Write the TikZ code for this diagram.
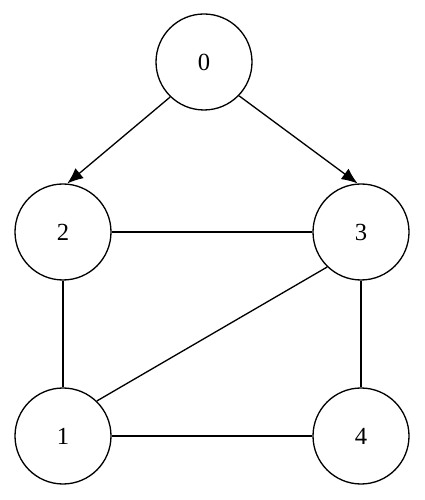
\documentclass[tikz,border=0pt]{standalone}
\usepackage{fontspec}
\setmainfont{Liberation Serif}
\usepackage{tikz}
\usetikzlibrary{arrows.meta,positioning}

\begin{document}
\begin{tikzpicture}

%BACKGROUND
\useasboundingbox (0,0) rectangle (8.5,10);

%%%%%%%%%%%%%%%%%%%%%%%%%%%%%%%%%%%%%%%%%%%%%%%%%%%%%%%%%%%%%%
%vertex
\tikzstyle{vertex}=[circle,draw,line width=0.75pt,minimum size=1.92cm,inner sep=0pt,font=\fontsize{14}{16}\selectfont]
%edges
\tikzstyle{edge}=[line width=0.75pt]

%0
\node[vertex] (state0) at (4.08,8.76) {0};
%2
\node[vertex] (state2) at (1.26,5.36) {2};
%3
\node[vertex] (state3) at (7.22,5.36) {3};
%1
\node[vertex] (state1) at (1.26,1.28) {1};
%4
\node[vertex] (state4) at (7.22,1.28) {4};

%%%%%%%%%%%%%%%%%%%%%%%%%%%%%%%%%%%%%%%%%%%%%%%%%%%%%%%%%%%%%%
%ARROWS

%0->2, 0->3
\draw[edge,->,>={Latex[length=3.2mm,width=2.6mm]}] (state0.226) -- (state2.85);
\draw[edge,->,>={Latex[length=3.2mm,width=2.6mm]}] (state0.-44) -- (state3.94);
%2
\draw[edge] (state2) -- (state3);
\draw[edge] (state2) -- (state1);
%3
\draw[edge] (state3.226) -- (state1.46);
\draw[edge] (state3) -- (state4);
%1
\draw[edge] (state1) -- (state4);
\end{tikzpicture}
\end{document}
